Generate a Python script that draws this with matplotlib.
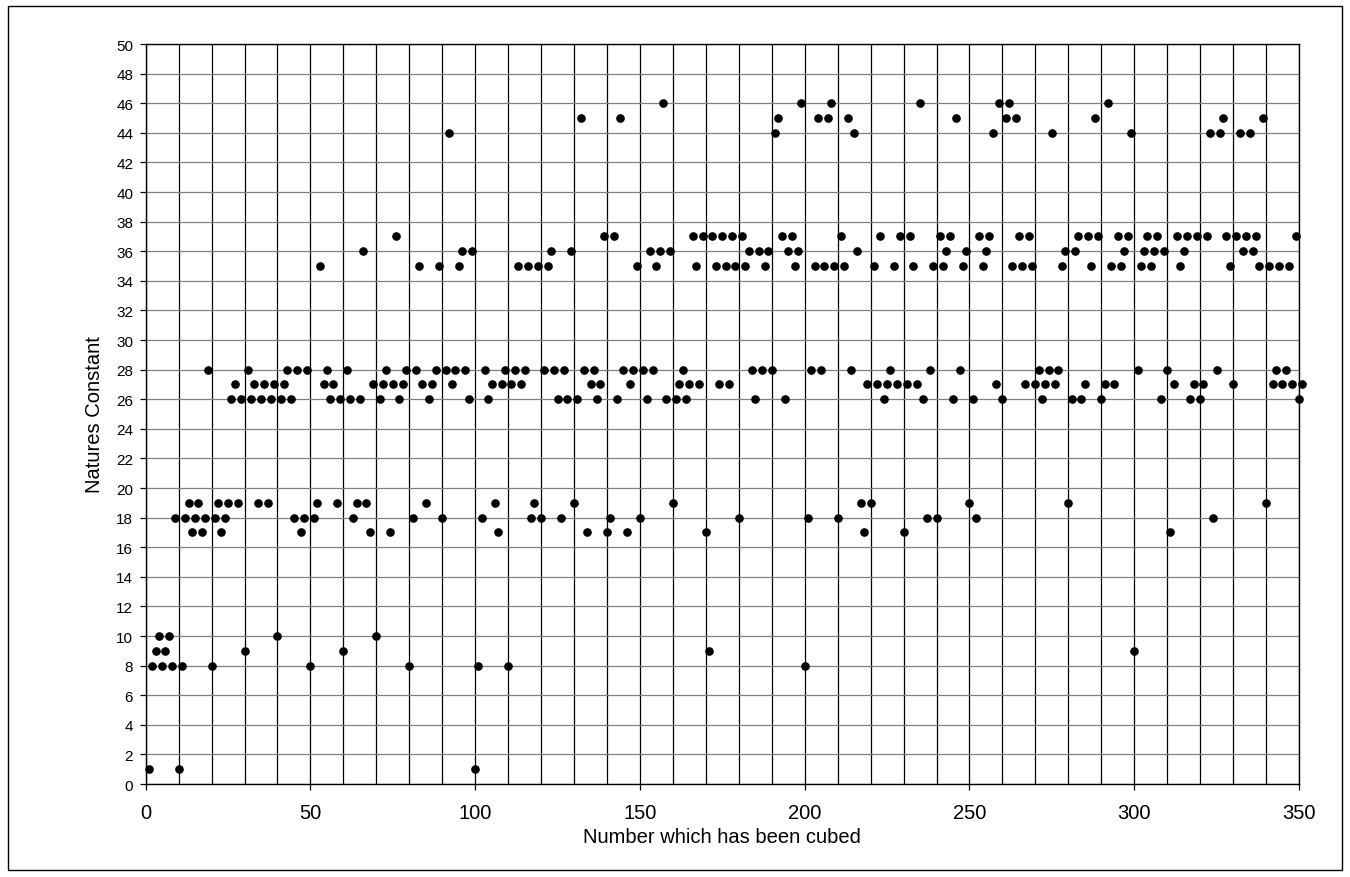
"""Scatter of natures constant against the number which has been cubed."""
import matplotlib
import numpy as np

matplotlib.use('Agg')
import matplotlib.pyplot as plt
from matplotlib.patches import Rectangle

plt.rcParams['font.family'] = ['Liberation Sans', 'DejaVu Sans']

# x values: every whole number from 1 to 351
cubed = list(range(1, 352))

# natures constant, ten per row
natures_constant = [
    1, 8, 9, 10, 8, 9, 10, 8, 18, 1,
    8, 18, 19, 17, 18, 19, 17, 18, 28, 8,
    18, 19, 17, 18, 19, 26, 27, 19, 26, 9,
    28, 26, 27, 19, 26, 27, 19, 26, 27, 10,
    26, 27, 28, 26, 18, 28, 17, 18, 28, 8,
    18, 19, 35, 27, 28, 26, 27, 19, 26, 9,
    28, 26, 18, 19, 26, 36, 19, 17, 27, 10,
    26, 27, 28, 17, 27, 37, 26, 27, 28, 8,
    18, 28, 35, 27, 19, 26, 27, 28, 35, 18,
    28, 44, 27, 28, 35, 36, 28, 26, 36, 1,
    8, 18, 28, 26, 27, 19, 17, 27, 28, 8,
    27, 28, 35, 27, 28, 35, 18, 19, 35, 18,
    28, 35, 36, 28, 26, 18, 28, 26, 36, 19,
    26, 45, 28, 17, 27, 28, 26, 27, 37, 17,
    18, 37, 26, 45, 28, 17, 27, 28, 35, 18,
    28, 26, 36, 28, 35, 36, 46, 26, 36, 19,
    26, 27, 28, 26, 27, 37, 35, 27, 37, 17,
    9, 37, 35, 27, 37, 35, 27, 37, 35, 18,
    37, 35, 36, 28, 26, 36, 28, 35, 36, 28,
    44, 45, 37, 26, 36, 37, 35, 36, 46, 8,
    18, 28, 35, 45, 28, 35, 45, 46, 35, 18,
    37, 35, 45, 28, 44, 36, 19, 17, 27, 19,
    35, 27, 37, 26, 27, 28, 35, 27, 37, 17,
    27, 37, 35, 27, 46, 26, 18, 28, 35, 18,
    37, 35, 36, 37, 26, 45, 28, 35, 36, 19,
    26, 18, 37, 35, 36, 37, 44, 27, 46, 26,
    45, 46, 35, 45, 37, 35, 27, 37, 35, 27,
    28, 26, 27, 28, 44, 27, 28, 35, 36, 19,
    26, 36, 37, 26, 27, 37, 35, 45, 37, 26,
    27, 46, 35, 27, 37, 35, 36, 37, 44, 9,
    28, 35, 36, 37, 35, 36, 37, 26, 36, 28,
    17, 27, 37, 35, 36, 37, 26, 27, 37, 26,
    27, 37, 44, 18, 28, 44, 45, 37, 35, 27,
    37, 44, 36, 37, 44, 36, 37, 35, 45, 19,
    35, 27, 28, 35, 27, 28, 35, 27, 37, 26,
    27,
]

x_ticks = [0, 50, 100, 150, 200, 250, 300, 350]
y_ticks = list(range(0, 51, 2))


fig = plt.figure(figsize=(13.5, 8.78), dpi=100)
fig.patch.set_facecolor('white')
ax = fig.add_axes([0.1079, 0.1059, 0.8543, 0.8428])

# outer frame round the whole chart
fig.patches.append(Rectangle((0.006, 0.008), 0.988, 0.984, transform=fig.transFigure,
                             fill=False, edgecolor='black', linewidth=1.0))

ax.set_xlim(0, 350)
ax.set_ylim(0, 50)
ax.set_xticks(x_ticks)
ax.set_xticks(list(range(0, 351, 10)), minor=True)
ax.set_yticks(y_ticks)

ax.grid(True, axis='y', which='major', color='#808080', linewidth=0.9)
ax.grid(True, axis='x', which='both', color='black', linewidth=0.9)
ax.set_axisbelow(True)

ax.plot(cubed, natures_constant, linestyle='none', marker='o', markersize=5.2,
        color='black', clip_on=False, zorder=3)

for spine in ax.spines.values():
    spine.set_color('black')
    spine.set_linewidth(1.0)

ax.tick_params(axis='both', which='major', direction='out', length=4, width=0.9,
               colors='black')
ax.tick_params(axis='x', which='major', labelsize=14.5, pad=10)
ax.tick_params(axis='x', which='minor', length=0)
ax.tick_params(axis='y', labelsize=11, pad=5)

ax.set_xlabel('Number which has been cubed', fontsize=14.5, labelpad=3)
ax.set_ylabel('Natures Constant', fontsize=14.5, labelpad=9)

fig.savefig('out.png', dpi=100, facecolor='white')
plt.close(fig)
